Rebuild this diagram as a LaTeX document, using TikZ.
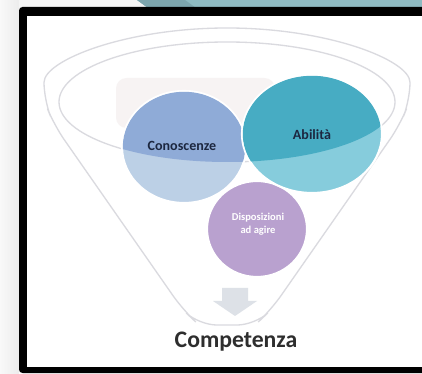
\documentclass[tikz,border=0pt]{standalone}
\usepackage{fontspec}
\setmainfont{Carlito}
\usepackage{tikz}
\definecolor{rimgrey}{HTML}{DADADF}
\definecolor{conolight}{HTML}{BCD0E6}
\definecolor{conodark}{HTML}{8FABD7}
\definecolor{abillight}{HTML}{86CCDC}
\definecolor{abildark}{HTML}{47ACC3}
\definecolor{dispfill}{HTML}{B9A1CF}
\definecolor{arrowgrey}{HTML}{DDE1E7}
\definecolor{tealband}{HTML}{8EBAC1}
\definecolor{tealdark}{HTML}{7CA5AD}
\definecolor{labeltext}{HTML}{1C2740}
\definecolor{shadowpink}{HTML}{F7F3F3}

\begin{document}
\begin{tikzpicture}[x=0.02cm, y=-0.02cm,
    rim/.style={draw=rimgrey, line width=0.75pt},
    bubble/.style={font=\bfseries\fontsize{8}{9}\selectfont, text=labeltext}]
  \clip (0,0) rectangle (422,374);
  % page behind the slide
  \fill[left color=gray!5, right color=gray!15] (0,0) rectangle (19,374);
  \fill[gray!9] (19,0) rectangle (150,8);
  \fill[tealband] (137,0) -- (422,0) -- (422,8) -- (148,8) -- cycle;
  \fill[tealdark] (137,0) -- (185,0) -- (196,8) -- (148,8) -- cycle;
  % slide frame
  \fill[black, rounded corners=2pt] (19,7) rectangle (440,373);
  \fill[white] (27,16) rectangle (440,367);
  % funnel
  \draw[rim, rounded corners=10pt] (44,100) arc[start angle=180, end angle=360, x radius=183, y radius=72]
    -- (400,125) -- (271,310) -- (255,325) -- (199,325) -- (183,310) -- (54,125) -- cycle;
  \fill[shadowpink, rounded corners=6pt] (116,78) rectangle (275,128);
  \draw[rim] (227,102) ellipse [x radius=168, y radius=60];
  % circles
  \fill[dispfill, draw=white, line width=1.2pt] (257,229) ellipse [x radius=50, y radius=48];
  \foreach \cx/\cy/\rx/\ry/\lt/\dk in {184/147/62/56/conolight/conodark, 312/134/70/59/abillight/abildark} {
    \fill[\lt, draw=white, line width=1.2pt] (\cx,\cy) ellipse [x radius=\rx, y radius=\ry];
    \begin{scope}
      \clip (227,102) ellipse [x radius=168, y radius=60];
      \fill[\dk] (\cx,\cy) ellipse [x radius=\rx-0.8, y radius=\ry-0.8];
    \end{scope}
  }
  \fill[arrowgrey] (222,288) -- (248,288) -- (248,301) -- (257,301) -- (235,316) -- (213,301) -- (222,301) -- cycle;
  % labels
  \node[bubble] (cono) at (182,146) {Conoscenze};
  \node[bubble] (abil) at (312,135) {Abilità};
  \node[align=center, text=white, font=\bfseries\fontsize{6}{7.5}\selectfont] (disp) at (258,224) {Disposizioni\\ad agire};
  \node[font=\bfseries\fontsize{13.5}{16}\selectfont, text=black!82] (comp) at (236,342) {Competenza};
\end{tikzpicture}
\end{document}
